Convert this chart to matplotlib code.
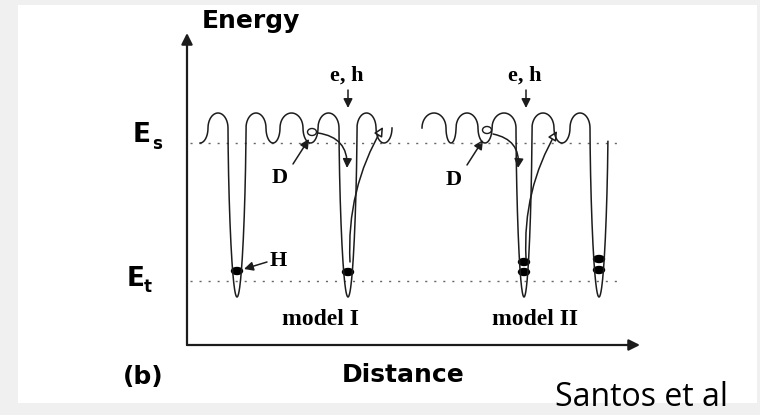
import numpy as np
import matplotlib.pyplot as plt
from matplotlib.patches import Rectangle, Ellipse, FancyArrowPatch

# Niveles de energía (unidades de dibujo, el eje y crece hacia abajo)
nivel_es = 143
nivel_et = 281
nivel_medio = 128
altura_ondulacion = 15
fondo_pozo = 297
linea_x = [190, 622]

# Modelo I: puntos de unión de la superficie y tipo de cada tramo
uniones_m1 = [192, 208, 228, 246, 266, 280, 303, 318, 339, 357, 376, 392]
tramos_m1 = ['valle', 'cresta', 'pozo', 'cresta', 'valle', 'cresta',
             'valle', 'cresta', 'pozo', 'cresta', 'valle']
inicio_m1 = 200

# Modelo II
uniones_m2 = [422, 446, 456, 478, 492, 516, 532, 554, 570, 590, 608]
tramos_m2 = ['cresta', 'valle', 'cresta', 'valle', 'cresta', 'pozo',
             'cresta', 'valle', 'cresta', 'pozo']
fin_pozo_m2 = 137

# Huecos atrapados (puntos negros) y excitones libres (círculos)
huecos_x = [237, 348, 524, 524, 599, 599]
huecos_y = [271, 272, 262, 272, 259, 270]
circulos_x = [312, 487]
circulos_y = [132, 130]

# Flechas
flechas_eh_x = [348, 526]
flechas_eh_y = [90, 108]
flechas_d = [((293, 164), (309, 139)), ((467, 165), (483, 140))]
flecha_h = ((267, 262), (244, 269))
curvas_caida = [((318, 133), (347, 168)), ((493, 134), (518, 168))]
curvas_subida = [((350, 262), (383, 127)), ((526, 258), (557, 131))]

# Ejes del diagrama
origen = (187, 345)
tope_energia = 33
tope_distancia = 640


def perfil(uniones, tramos):
    xs, ys = [], []
    t = np.linspace(np.pi, 0, 80)
    c, s = np.cos(t), np.sin(t)
    for a, b, tipo in zip(uniones[:-1], uniones[1:], tramos):
        xc = (a + b) / 2
        r = (b - a) / 2
        if tipo == 'cresta':
            x = xc + r * c
            y = nivel_medio - altura_ondulacion * s
        elif tipo == 'valle':
            x = xc + r * c
            y = nivel_medio + altura_ondulacion * s
        else:
            x = xc + r * np.sign(c) * np.sqrt(np.clip(1 - s ** 1.6, 0, 1))
            y = nivel_medio + (fondo_pozo - nivel_medio) * s
        xs.append(x)
        ys.append(y)
    return np.concatenate(xs), np.concatenate(ys)


fig = plt.figure(figsize=(7.6, 4.15), dpi=100)
fig.patch.set_facecolor('#f0f0f0')
ax = fig.add_axes([0, 0, 1, 1])
ax.set_xlim(0, 760)
ax.set_ylim(415, 0)
ax.axis('off')

ax.add_patch(Rectangle((18, 5), 739, 398, facecolor='white', edgecolor='none'))

negro = '#1c1c1c'
serif = 'Liberation Serif'
sans = 'DejaVu Sans'

# Niveles Es y Et punteados
for nivel in [nivel_es, nivel_et]:
    ax.plot(linea_x, [nivel, nivel], color='#666666', lw=1.0,
            linestyle=(0, (1.5, 5)))

# Superficies de potencial
x1, y1 = perfil(uniones_m1, tramos_m1)
m = x1 >= inicio_m1
ax.plot(x1[m], y1[m], color=negro, lw=1.1)

x2, y2 = perfil(uniones_m2, tramos_m2)
centro_ultimo = (uniones_m2[-2] + uniones_m2[-1]) / 2
m = ~((x2 > centro_ultimo) & (y2 < fin_pozo_m2))
ax.plot(x2[m], y2[m], color=negro, lw=1.1)

# Huecos y círculos
for hx, hy in zip(huecos_x, huecos_y):
    ax.add_patch(Ellipse((hx, hy), 11, 7, facecolor='black', edgecolor='black'))
for cx, cy in zip(circulos_x, circulos_y):
    ax.add_patch(Ellipse((cx, cy), 9, 7, facecolor='white', edgecolor=negro, lw=1.0))


def flecha(a, b, rad=0.0, relleno=negro, lw=1.1, escala=9):
    ax.add_patch(FancyArrowPatch(a, b, arrowstyle='-|>,head_length=0.6,head_width=0.3',
                                 connectionstyle=f'arc3,rad={rad}', mutation_scale=escala,
                                 edgecolor=negro, facecolor=relleno, lw=lw,
                                 shrinkA=0, shrinkB=0))


for fx in flechas_eh_x:
    flecha((fx, flechas_eh_y[0]), (fx, flechas_eh_y[1]))
for a, b in flechas_d:
    flecha(a, b)
flecha(*flecha_h)
for a, b in curvas_caida:
    flecha(a, b, rad=-0.45)
for a, b in curvas_subida:
    flecha(a, b, rad=-0.15, relleno='white')

# Ejes con flechas
flecha(origen, (origen[0], tope_energia), lw=1.6, escala=11)
flecha(origen, (tope_distancia, origen[1]), lw=1.6, escala=11)

# Textos
ax.text(202, 28, 'Energy', fontsize=18, fontweight='bold', family=sans)
ax.text(342, 382, 'Distance', fontsize=18, fontweight='bold', family=sans)
ax.text(143, 384, '(b)', fontsize=18, fontweight='bold', family=sans, ha='center')
ax.text(133, 142, 'E', fontsize=19, fontweight='bold', family=sans)
ax.text(152, 149, 's', fontsize=12, fontweight='bold', family=sans)
ax.text(127, 286, 'E', fontsize=19, fontweight='bold', family=sans)
ax.text(144, 292, 't', fontsize=12, fontweight='bold', family=sans)

ax.text(320, 325, 'model I', fontsize=17, fontweight='bold', family=serif, ha='center')
ax.text(535, 325, 'model II', fontsize=17, fontweight='bold', family=serif, ha='center')
ax.text(347, 81, 'e, h', fontsize=16, fontweight='bold', family=serif, ha='center')
ax.text(525, 81, 'e, h', fontsize=16, fontweight='bold', family=serif, ha='center')
ax.text(280, 183, 'D', fontsize=16, fontweight='bold', family=serif, ha='center')
ax.text(454, 185, 'D', fontsize=16, fontweight='bold', family=serif, ha='center')
ax.text(278, 266, 'H', fontsize=16, fontweight='bold', family=serif, ha='center')

ax.text(555, 406, 'Santos et al', fontsize=23, family='Open Sans')

fig.savefig('out.png', dpi=100, facecolor=fig.get_facecolor())
